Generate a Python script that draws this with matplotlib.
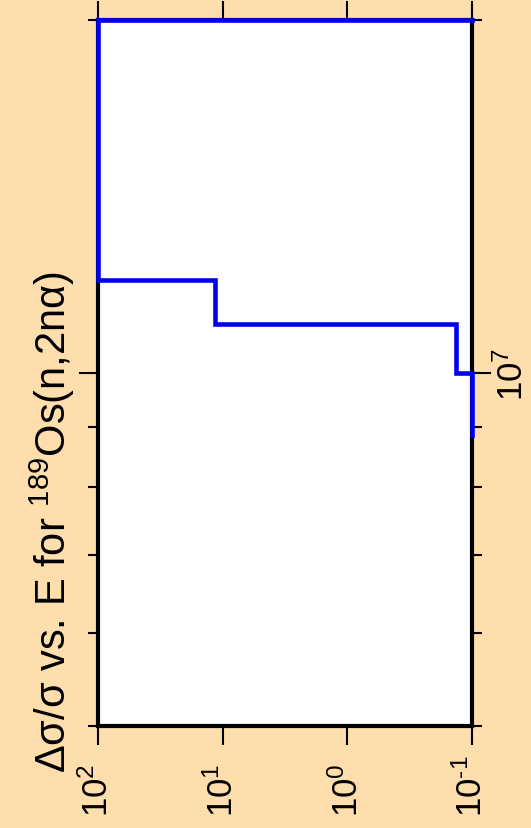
import numpy as np
import matplotlib
matplotlib.use("Agg")
import matplotlib.pyplot as plt
from matplotlib.ticker import (LogLocator, NullLocator, NullFormatter,
                               FixedLocator, FuncFormatter)

# relative uncertainty of the cross section, one value per energy bin
energy_edges = [8.85e6, 1.0e7, 1.1e7, 1.2e7, 2.0e7]   # eV
rel_unc = [0.1, 0.135, 11.5, 100.0]                   # delta sigma / sigma
closing_value = 0.1                                   # line drops back at last edge

unc_ticks = [1e2, 1e1, 1e0, 1e-1]
unc_range = (100.0, 0.1)
energy_range = (5e6, 2e7)

title = "Δσ/σ vs. E for $^{189}$Os(n,2nα)"

plt.rcParams["font.family"] = ["Liberation Sans", "DejaVu Sans"]
plt.rcParams["mathtext.fontset"] = "custom"
plt.rcParams["mathtext.rm"] = "Liberation Sans"
plt.rcParams["mathtext.it"] = "Liberation Sans:italic"
plt.rcParams["axes.unicode_minus"] = False


def pow10(v, pos=None):
    e = int(round(np.log10(v)))
    es = str(e) if e >= 0 else r"\text{-}" + str(-e)
    return r"$\mathdefault{10^{%s}}$" % es


W, H = 531, 829
fig = plt.figure(figsize=(W / 100, H / 100), dpi=100, facecolor="#ffdead")
ax = fig.add_axes([98 / W, 102 / H, 374 / W, 706 / H])
ax.set_facecolor("white")

# build the step outline (drawn rotated: value on x, energy on y)
xs = list(np.repeat(rel_unc, 2)) + [closing_value]
ys = list(np.repeat(energy_edges, 2)[1:-1]) + [energy_edges[-1]]
ax.plot(xs, ys, color="#0000ee", lw=3.3, clip_on=False, zorder=5,
        solid_joinstyle="miter")

ax.set_xscale("log")
ax.set_yscale("log")
ax.set_xlim(*unc_range)
ax.set_ylim(*energy_range)

ax.xaxis.set_major_locator(FixedLocator(unc_ticks))
ax.xaxis.set_minor_locator(NullLocator())
ax.xaxis.set_major_formatter(FuncFormatter(pow10))
ax.yaxis.set_major_locator(LogLocator(base=10))
ax.yaxis.set_minor_locator(LogLocator(base=10, subs=np.arange(2, 10)))
ax.yaxis.set_major_formatter(FuncFormatter(pow10))
ax.yaxis.set_minor_formatter(NullFormatter())

for s in ax.spines.values():
    s.set_linewidth(3)

ax.tick_params(which="both", direction="out", top=True, right=True,
               left=True, bottom=True, labelleft=False, labelright=True,
               width=1.5, labelsize=25)
ax.tick_params(which="major", length=14)
ax.tick_params(which="minor", length=7)
ax.tick_params(axis="x", pad=51, labelrotation=90)
ax.tick_params(axis="y", pad=3, labelrotation=90)

for lab in ax.get_xticklabels():
    lab.set_va("bottom")
for lab in ax.get_yticklabels():
    lab.set_va("center")
    lab.set_ha("left")

fig.text(52 / W, 1 - 522 / H, title, rotation=90, ha="center", va="center",
         fontsize=30)

fig.savefig("out.png", dpi=100, facecolor=fig.get_facecolor())
